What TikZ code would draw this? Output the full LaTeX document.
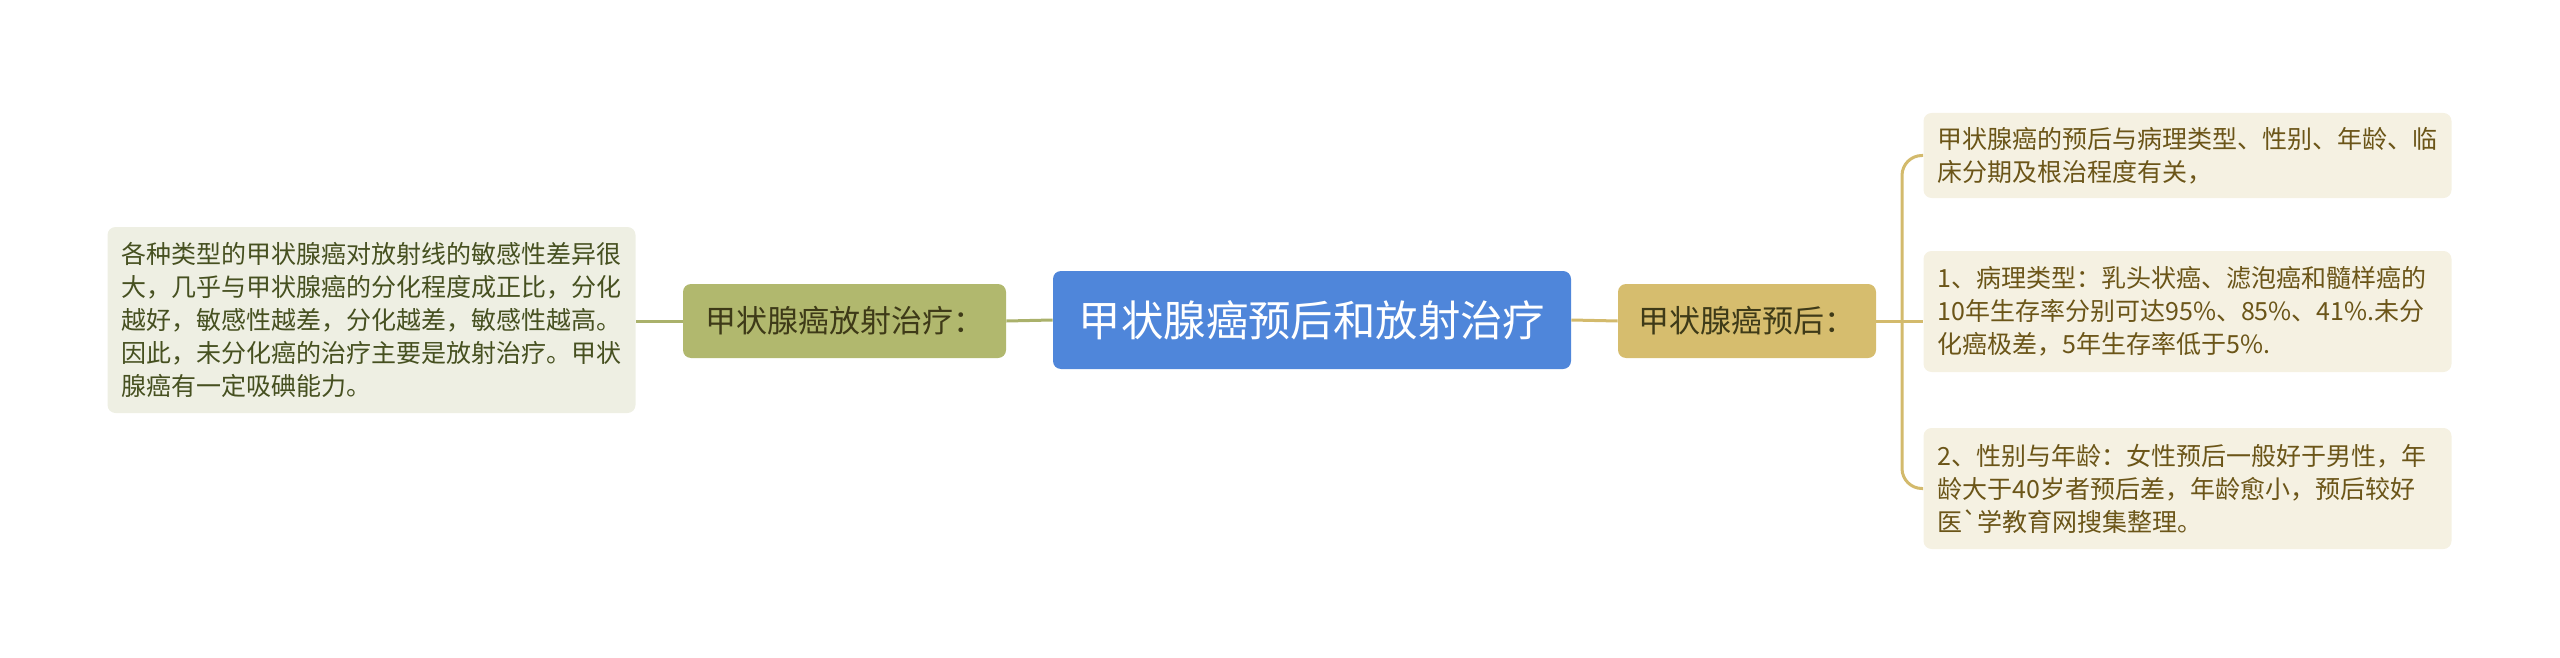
\documentclass[tikz,border=0pt]{standalone}
\usepackage{fontspec}
\setmainfont{Noto Sans CJK SC}
\usetikzlibrary{positioning}
\definecolor{rootblue}{HTML}{4F86DA}
\definecolor{olivebr}{HTML}{B1B86E}
\definecolor{goldbr}{HTML}{D6BD6E}
\definecolor{oliveleaf}{HTML}{EEEFE3}
\definecolor{goldleaf}{HTML}{F5F1E2}
\definecolor{olivetext}{HTML}{465020}
\definecolor{goldtext}{HTML}{6B5518}
\definecolor{branchtext}{HTML}{3E3A18}
\definecolor{oliveline}{HTML}{AAB16B}
\definecolor{goldline}{HTML}{D3BA6C}
\begin{document}
\begin{tikzpicture}[x=0.5pt,y=-0.5pt,
  root/.style={fill=rootblue,text=white,rounded corners=4pt,minimum width=259pt,minimum height=49pt,font=\fontsize{21.2}{25}\selectfont},
  branch/.style={rounded corners=4pt,minimum height=37pt,font=\fontsize{15.5}{18}\selectfont},
  leaf/.style={rounded corners=4pt,text width=250pt,align=left,inner xsep=7pt,inner ysep=7pt,font=\fontsize{12.5}{16.5}\selectfont},
  link/.style={line width=1.5pt}]
\useasboundingbox (0,0) rectangle (2560,658);
%picture
\node[root] (root) at (1312,320) {甲状腺癌预后和放射治疗};
\node[branch,fill=olivebr,text=branchtext,minimum width=161.5pt] (radio) at (844.5,321) {甲状腺癌放射治疗：};
\node[branch,fill=goldbr,text=branchtext,minimum width=129pt] (prog) at (1747,321) {甲状腺癌预后：};
%leaves
\node[leaf,fill=oliveleaf,text=olivetext,minimum height=93pt] (radioleaf) at (371.5,320) {各种类型的甲状腺癌对放射线的敏感性差异很\\大，几乎与甲状腺癌的分化程度成正比，分化\\越好，敏感性越差，分化越差，敏感性越高。\\因此，未分化癌的治疗主要是放射治疗。甲状\\腺癌有一定吸碘能力。};
\node[leaf,fill=goldleaf,text=goldtext,minimum height=42.5pt] (progA) at (2187.5,155.5) {甲状腺癌的预后与病理类型、性别、年龄、临\\床分期及根治程度有关，};
\node[leaf,fill=goldleaf,text=goldtext,minimum height=60.5pt] (progB) at (2187.5,311.5) {1、病理类型：乳头状癌、滤泡癌和髓样癌的\\10年生存率分别可达95\%、85\%、41\%.未分\\化癌极差，5年生存率低于5\%.};
\node[leaf,fill=goldleaf,text=goldtext,minimum height=60.5pt] (progC) at (2187.5,488.5) {2、性别与年龄：女性预后一般好于男性，年\\龄大于40岁者预后差，年龄愈小，预后较好\\医\textasciigrave 学教育网搜集整理。};
%links
\coordinate (fork) at (1902,321);
\draw[link,oliveline] (radio.east) -- (root.west);
\draw[link,oliveline] (radio.west) -- (radioleaf.east |- radio.west);
\draw[link,goldline] (root.east) -- (prog.west);
\draw[link,goldline] (prog.east) -- (progB.west |- prog.east);
\draw[link,goldline,rounded corners=10pt] (progA.west) -| (fork) |- (progC.west);
\end{tikzpicture}
\end{document}
